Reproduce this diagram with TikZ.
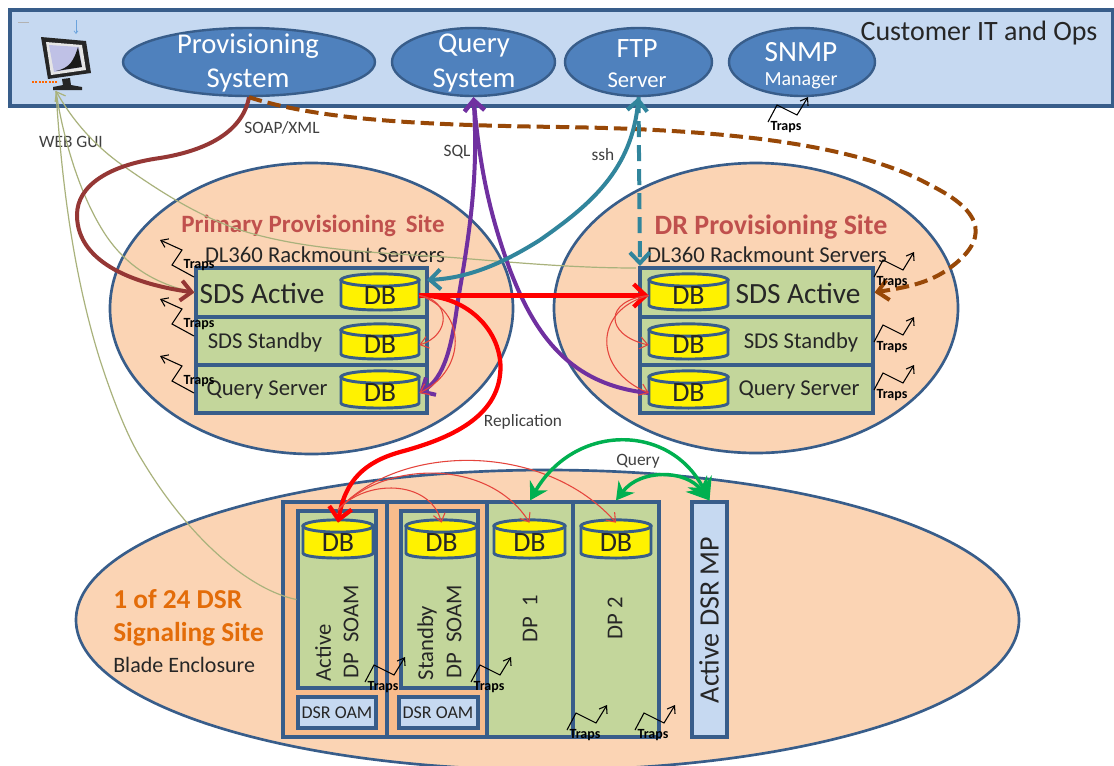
\documentclass[tikz,border=0pt]{standalone}
\usepackage{fontspec}
\setmainfont{Carlito}
\usetikzlibrary{arrows.meta,shapes.geometric}
\definecolor{barblue}{HTML}{C6D9F1}
\definecolor{edgeblue}{HTML}{385D8A}
\definecolor{sysblue}{HTML}{4F81BD}
\definecolor{peach}{HTML}{FBD4B4}
\definecolor{peachdark}{HTML}{F8BC8C}
\definecolor{boxgreen}{HTML}{C3D69B}
\definecolor{soapred}{HTML}{953735}
\definecolor{dashbrown}{HTML}{984807}
\definecolor{sqlpurple}{HTML}{7030A0}
\definecolor{sshteal}{HTML}{31859C}
\definecolor{webolive}{HTML}{A9B27C}
\definecolor{thinred}{HTML}{E5443C}
\definecolor{querygreen}{HTML}{00B050}
\definecolor{titlered}{HTML}{C0504D}
\definecolor{siteorange}{HTML}{E36C09}
\newcommand{\fs}[1]{\fontsize{#1}{#1}\selectfont}
\newcommand{\pxbox}[6]{%
  \pgfmathsetmacro\myw{(#5-#3)*0.75}\pgfmathsetmacro\myh{(#6-#4)*0.75}%
  \pgfmathsetmacro\mycx{(#3+#5)/2}\pgfmathsetmacro\mycy{(#4+#6)/2}%
  \node[#1,minimum width=\myw pt,minimum height=\myh pt] (#2) at (\mycx,\mycy) {};}
\newcommand{\dbcyl}[5]{%
  \pgfmathsetmacro\mycx{(#2+#4)/2}\pgfmathsetmacro\mycy{(#3+#5)/2}%
  \pgfmathsetmacro\myw{(#4-#2)*0.75}\pgfmathsetmacro\myh{(#5-#3)*0.75}%
  \pgfmathsetmacro\myrx{(#4-#2)*0.375}%
  \pgfmathsetmacro\mytop{#3+7}\pgfmathsetmacro\mybot{#5-5}\pgfmathsetmacro\mylow{#5+1.7}%
  \draw[dbline,fill=yellow] (#2,\mytop) -- (#2,\mybot) .. controls (#2,\mylow) and (#4,\mylow) .. (#4,\mybot) -- (#4,\mytop) -- cycle;
  \draw[dbline,fill=yellow] (\mycx,\mytop) ellipse [x radius=\myrx pt,y radius=4.6pt];
  \node[minimum width=\myw pt,minimum height=\myh pt,inner sep=0pt,font=\fs{21},text=black!85] (#1) at (\mycx,\mycy+4) {DB};}
\newcommand{\trapR}[3]{%
  \draw[trapline] (#2,#3) -- ++(9,-17) -- ++(20,10) -- ++(11,-18);
  \node[trapfont] (#1) at (#2+18,#3+5) {Traps};}
\newcommand{\trapL}[3]{%
  \draw[trapline] (#2,#3) -- ++(-22,-12) -- ++(10,-15) -- ++(-22,-10);
  \node[trapfont] (#1) at (#2+5,#3-11.5) {Traps};}
\tikzset{
  rectbox/.style={draw=edgeblue,line width=2.3pt,inner sep=0pt},
  greenbox/.style={rectbox,fill=boxgreen},
  lightbox/.style={rectbox,fill=barblue},
  orangebox/.style={rectbox,fill=peachdark},
  sysell/.style={ellipse,draw=edgeblue,line width=1.8pt,fill=sysblue,inner sep=0pt},
  siteell/.style={ellipse,draw=edgeblue,line width=2pt,fill=peach,inner sep=0pt},
  dbline/.style={draw=edgeblue,line width=2.2pt},
  trapline/.style={draw=black,line width=.8pt,-{Straight Barb[length=5pt,width=7pt]}},
  trapfont/.style={inner sep=0pt,font=\bfseries\fs{10.5},text=black},
  wtext/.style={inner sep=0pt,text=white},
  dtext/.style={inner sep=0pt,text=black!85},
  small/.style={inner sep=0pt,text=black!75,font=\fs{13}},
  oliveline/.style={draw=webolive,line width=.9pt},
  thinline/.style={draw=thinred,line width=.8pt,-{Straight Barb[length=6pt,width=9pt]}},
  heavy/.style={line width=3pt,-{Straight Barb[length=8pt,width=15pt]}},
  bothheavy/.style={line width=3pt,{Straight Barb[length=8pt,width=15pt]}-{Straight Barb[length=8pt,width=15pt]}},
  green2/.style={draw=querygreen,line width=2.6pt,{Stealth[length=13pt,width=15pt]}-{Stealth[length=16pt,width=20pt]}},
}
\begin{document}
\begin{tikzpicture}[x=0.75pt,y=-0.75pt]
\useasboundingbox (0,0) rectangle (1114,765);
\fill[white] (0,0) rectangle (1114,765);
% top bar
\pxbox{lightbox}{bar}{10}{10}{1113}{106}
\pxbox{sysell}{prov}{123}{28}{375}{96}
\pxbox{sysell}{qsys}{392}{28}{555}{96}
\pxbox{sysell}{ftp}{565}{28}{712}{96}
\pxbox{sysell}{snmp}{729}{28}{875}{96}
\node[wtext,font=\fs{21.5}] (t1) at (248,46) {Provisioning};
\node[wtext,font=\fs{21.5}] (t2) at (248,81) {System};
\node[wtext,font=\fs{21.5}] (t3) at (474,46) {Query};
\node[wtext,font=\fs{21.5}] (t4) at (474,81) {System};
\node[wtext,font=\fs{21}] (t5) at (637,49) {FTP};
\node[wtext,font=\fs{17}] (t6) at (637,80) {Server};
\node[wtext,font=\fs{22}] (t7) at (801,52) {SNMP};
\node[wtext,font=\fs{15}] (t8) at (801,81) {Manager};
\node[dtext,font=\fs{21}] (t9) at (979,33) {Customer IT and Ops};
% monitor
\fill[black!85] (41,37) -- (86,41) -- (91,73) -- (48,79) -- cycle;
\fill[white!90!black] (46,42) -- (82,45) -- (86,70) -- (51,75) -- cycle;
\fill[cyan!25!blue!25] (49,45) -- (79,47) -- (82,67) -- (54,72) -- cycle;
\fill[black!90] (56,71) .. controls (70,68) and (74,60) .. (78,47) -- (82,67) -- cycle;
\fill[black!85] (62,79) -- (70,78) -- (71,85) -- (82,87) -- (82,90) -- (53,90) -- (53,87) -- (63,85) -- cycle;
\draw[orange!80!red,line width=2pt,dash pattern=on 1.5pt off 1pt] (32,82) -- (57,82);
\draw[cyan!60!blue!60,line width=.5pt,-{Straight Barb[length=2pt,width=3pt]}] (76,20) -- (76,34);
\draw[black!30,line width=.5pt] (18,22) -- (29,22);
\coordinate (monport) at (56,91);
% sites
\pxbox{siteell}{dsite}{76}{470}{1019}{770}
\pxbox{siteell}{psite}{110}{163}{513}{454}
\pxbox{siteell}{rsite}{554}{163}{958}{453}
\node[font=\bfseries\fs{18.7},text=titlered,inner sep=0pt] (t10) at (313,226) {Primary Provisioning\, Site};
\node[dtext,font=\fs{17}] (t11) at (325,255) {DL360 Rackmount Servers};
\node[font=\bfseries\fs{21},text=titlered,inner sep=0pt] (t12) at (771,227) {DR Provisioning Site};
\node[dtext,font=\fs{17}] (t13) at (767,255) {DL360 Rackmount Servers};
% primary boxes
\pxbox{greenbox}{sdsA}{196}{268}{427}{317}
\pxbox{greenbox}{sdsS}{196}{317}{427}{365}
\pxbox{greenbox}{sdsQ}{196}{365}{427}{413}
\dbcyl{dbPa}{341}{273}{419}{310}
\dbcyl{dbPs}{341}{323}{419}{359}
\dbcyl{dbPq}{341}{370}{419}{408}
\node[dtext,font=\fs{22}] (t14) at (262,293) {SDS Active};
\node[dtext,font=\fs{17}] (t15) at (265,342) {SDS Standby};
\node[dtext,font=\fs{17}] (t16) at (267,390) {Query Server};
% DR boxes
\pxbox{greenbox}{sdsB}{640}{268}{873}{317}
\pxbox{greenbox}{sdsT}{640}{317}{873}{365}
\pxbox{greenbox}{sdsR}{640}{365}{873}{413}
\dbcyl{dbDa}{649}{273}{728}{310}
\dbcyl{dbDs}{649}{323}{728}{359}
\dbcyl{dbDq}{649}{370}{728}{408}
\node[dtext,font=\fs{22}] (t17) at (798,293) {SDS Active};
\node[dtext,font=\fs{17}] (t18) at (801,342) {SDS Standby};
\node[dtext,font=\fs{17}] (t19) at (799,390) {Query Server};
% signaling site
\pxbox{orangebox}{enc1}{283}{502}{387}{737}
\pxbox{orangebox}{enc2}{387}{502}{487}{737}
\pxbox{greenbox}{dp1}{487}{502}{573}{737}
\pxbox{greenbox}{dp2}{573}{502}{659}{737}
\pxbox{greenbox}{soamA}{298}{511}{376}{688}
\pxbox{greenbox}{soamS}{401}{511}{478}{688}
\pxbox{lightbox}{oamA}{298}{697}{376}{728}
\pxbox{lightbox}{oamS}{399}{697}{478}{728}
\pxbox{lightbox}{mp}{692}{502}{727}{737}
\dbcyl{dbSa}{303}{519}{373}{558}
\dbcyl{dbSs}{406}{519}{477}{558}
\dbcyl{dbS1}{494}{519}{565}{558}
\dbcyl{dbS2}{581}{519}{651}{558}
\node[dtext,font=\fs{17},rotate=90] (t20) at (323,653) {Active};
\node[dtext,font=\fs{17},rotate=90] (t21) at (351,632) {DP\ \ SOAM};
\node[dtext,font=\fs{17},rotate=90] (t22) at (427,643) {Standby};
\node[dtext,font=\fs{17},rotate=90] (t23) at (454,632) {DP\ \ SOAM};
\node[dtext,font=\fs{17},rotate=90] (t24) at (530,619) {DP\ \ 1};
\node[dtext,font=\fs{17},rotate=90] (t25) at (615,618) {DP\ 2};
\node[dtext,font=\fs{21},rotate=90] (t26) at (709,620) {Active DSR MP};
\node[dtext,font=\fs{13.5}] (t27) at (337,713) {DSR OAM};
\node[dtext,font=\fs{13.5}] (t28) at (438,713) {DSR OAM};
\node[font=\bfseries\fs{20.5},text=siteorange,inner sep=0pt,anchor=west] (t29) at (113,599) {1 of 24 DSR};
\node[font=\bfseries\fs{20.5},text=siteorange,inner sep=0pt,anchor=west] (t30) at (113,634) {Signaling Site};
\node[dtext,font=\fs{16.5},anchor=west] (t31) at (113,665) {Blade Enclosure};
% labels
\node[small] (l1) at (282,128) {SOAP/XML};
\node[small] (l2) at (71,142) {WEB GUI};
\node[small] (l3) at (457,152) {SQL};
\node[small] (l4) at (603,155) {ssh};
\node[small] (l5) at (523,422) {Replication};
\node[small] (l6) at (638,461) {Query};
% named free ends
\coordinate (soamtop) at (338,510);
\coordinate (tealend) at (427,280);
\coordinate (olivend) at (636,268);
\coordinate (dashend) at (640,266);
% web gui
\draw[oliveline,-{Straight Barb[length=6pt,width=9pt]}] (olivend) .. controls (570,268) and (510,262) .. (446,257) .. controls (380,253) and (310,250) .. (250,233) .. controls (205,220) and (165,195) .. (125,167) .. controls (100,150) and (75,125) .. (monport);
\draw[oliveline] (monport) .. controls (60,120) and (75,190) .. (107,237) .. controls (130,270) and (160,285) .. (sdsA.west);
\draw[oliveline] (monport) .. controls (62,190) and (75,280) .. (100,360) .. controls (113,400) and (128,438) .. (142,460) .. controls (190,540) and (250,590) .. (soamA.west);
% soap
\draw[draw=soapred,heavy] (prov.south) .. controls (243,130) and (210,150) .. (160,158) .. controls (110,165) and (77,185) .. (77,215) .. controls (77,265) and (140,285) .. (sdsA.west);
% dashed provisioning
\draw[draw=dashbrown,heavy,dash pattern=on 10pt off 4.5pt] (prov.south) .. controls (320,120) and (420,125) .. (560,127) .. controls (700,129) and (850,140) .. (930,185) .. controls (985,212) and (990,240) .. (947,270) .. controls (925,285) and (900,288) .. (sdsB.east);
% sql
\draw[draw=sqlpurple,bothheavy] (qsys.south) .. controls (478,170) and (472,220) .. (458,300) .. controls (452,345) and (445,378) .. (dbPq.east);
\draw[draw=sqlpurple,line width=3pt,{Straight Barb[length=8pt,width=15pt]}-] (qsys.south) .. controls (480,170) and (490,215) .. (510,270) .. controls (535,335) and (570,385) .. (dbDq.west);
% ssh
\draw[draw=sshteal,bothheavy] (ftp.south) .. controls (632,170) and (590,205) .. (540,240) .. controls (505,262) and (470,278) .. (tealend);
\draw[draw=sshteal,heavy,dash pattern=on 12pt off 6pt] (ftp.south) -- (dashend);
% replication
\draw[draw=red,line width=3.2pt,-{Straight Barb[length=9pt,width=17pt]}] (dbPa.east) -- (dbDa.west);
\draw[draw=red,line width=3.2pt,-{Straight Barb[length=9pt,width=17pt]}] (dbPa.east) .. controls (470,295) and (505,335) .. (500,375) .. controls (495,420) and (445,440) .. (400,452) .. controls (365,462) and (345,480) .. (dbSa.north);
% thin reds
\draw[thinline] (dbPa.east) .. controls (451,300) and (451,335) .. (dbPs.east);
\draw[thinline] (dbPa.east) .. controls (467,310) and (467,370) .. (dbPq.east);
\draw[thinline] (dbDa.west) .. controls (604,300) and (604,335) .. (dbDs.west);
\draw[thinline] (dbDa.west) .. controls (593,310) and (593,370) .. (dbDq.west);
\draw[thinline] (soamtop) .. controls (365,479) and (430,479) .. (dbSs.north);
\draw[thinline] (soamtop) .. controls (385,459) and (490,459) .. (dbS1.north);
\draw[thinline] (soamtop) .. controls (400,442) and (545,442) .. (dbS2.north);
% query
\draw[green2] (dp1.north) .. controls (575,423) and (670,423) .. (mp.north);
\draw[green2] (dp2.north) .. controls (640,469) and (685,469) .. (mp.north);
% traps
\trapR{tr1}{768}{122}
\trapL{tr2}{194}{277}
\trapL{tr3}{194}{336}
\trapL{tr4}{194}{393}
\trapR{tr5}{874}{277}
\trapR{tr6}{874}{342}
\trapR{tr7}{874}{390}
\trapR{tr8}{365}{682}
\trapR{tr9}{471}{682}
\trapR{tr10}{567}{730}
\trapR{tr11}{635}{730}
\end{tikzpicture}
\end{document}
